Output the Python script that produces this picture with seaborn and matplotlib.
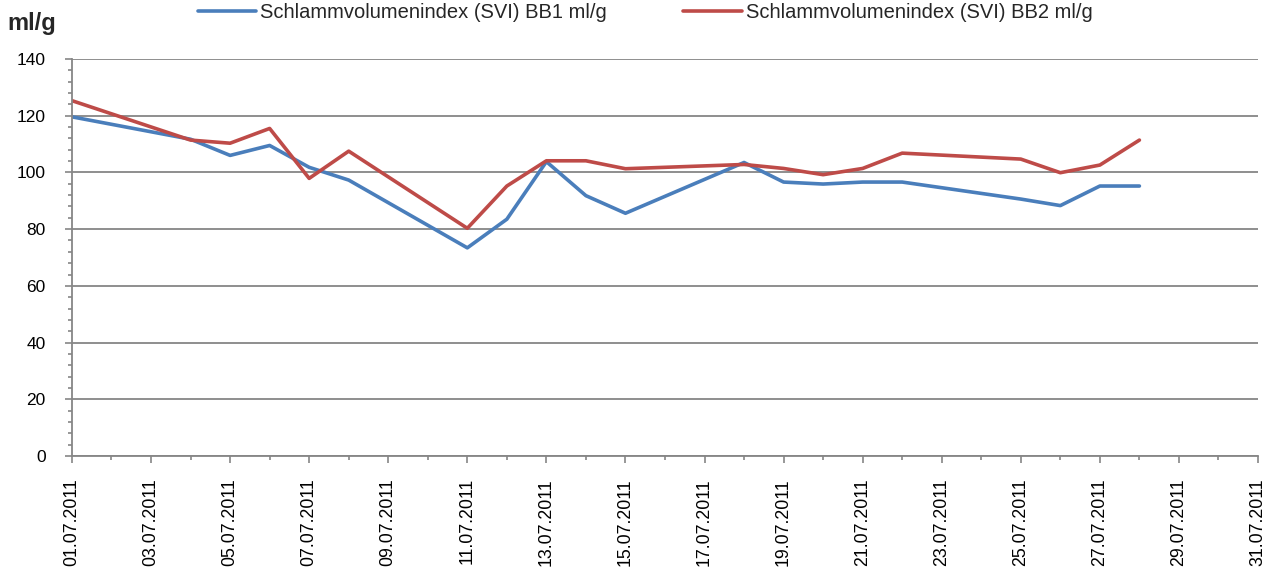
import matplotlib
matplotlib.use("Agg")
import matplotlib.pyplot as plt
import matplotlib.dates as mdates
from matplotlib.ticker import MultipleLocator
import seaborn as sns
import pandas as pd

dates = ["2011-07-01", "2011-07-04", "2011-07-05", "2011-07-06", "2011-07-07", "2011-07-08",
         "2011-07-11", "2011-07-12", "2011-07-13", "2011-07-14", "2011-07-15",
         "2011-07-18", "2011-07-19", "2011-07-20", "2011-07-21", "2011-07-22",
         "2011-07-25", "2011-07-26", "2011-07-27", "2011-07-28"]
bb1 = [119.6, 111.7, 106.0, 109.5, 101.8, 97.3, 73.4, 83.5, 103.8, 91.8, 85.6,
       103.5, 96.6, 95.9, 96.6, 96.6, 90.6, 88.3, 95.2, 95.2]
bb2 = [125.3, 111.4, 110.3, 115.5, 97.9, 107.5, 80.3, 95.2, 104.1, 104.1, 101.3,
       102.8, 101.4, 99.2, 101.4, 106.8, 104.7, 99.9, 102.6, 111.4]
label1 = "Schlammvolumenindex (SVI) BB1 ml/g"
label2 = "Schlammvolumenindex (SVI) BB2 ml/g"
y_ticks = [0, 20, 40, 60, 80, 100, 120, 140]

sns.set_theme(style="white")
plt.rcParams["font.family"] = ["Liberation Sans", "DejaVu Sans"]

df = pd.DataFrame({"date": pd.to_datetime(dates), "bb1": bb1, "bb2": bb2})

fig = plt.figure(figsize=(12.85, 5.71), dpi=100)
ax = fig.add_axes([0.056, 0.2014, 0.923, 0.6953])

sns.lineplot(data=df, x="date", y="bb1", ax=ax, color="#4A7EBB", linewidth=2.6, label=label1)
sns.lineplot(data=df, x="date", y="bb2", ax=ax, color="#BE4B48", linewidth=2.6, label=label2)

ax.set_ylim(0, 140)
ax.set_yticks(y_ticks)
ax.yaxis.set_minor_locator(MultipleLocator(4))
ax.set_xlim(pd.Timestamp("2011-07-01"), pd.Timestamp("2011-07-31"))
ax.xaxis.set_major_locator(mdates.DayLocator(interval=2))
ax.xaxis.set_minor_locator(mdates.DayLocator())
ax.xaxis.set_major_formatter(mdates.DateFormatter("%d.%m.%Y"))
plt.setp(ax.get_xticklabels(), rotation=90)

ax.grid(axis="y", color="#868686", linewidth=1.3)
ax.set_axisbelow(True)
for s in ["top", "right"]:
    ax.spines[s].set_visible(False)
for s in ["left", "bottom"]:
    ax.spines[s].set_color("#868686")
    ax.spines[s].set_linewidth(1.3)

ax.tick_params(axis="both", which="major", direction="out", length=5, width=1.2, color="#868686",
               labelcolor="black", bottom=True, left=True)
ax.tick_params(axis="both", which="minor", direction="out", length=3, width=1.2, color="#868686",
               bottom=True, left=True)
ax.tick_params(axis="y", which="major", pad=14, labelsize=12.5)
ax.tick_params(axis="x", which="major", pad=11, labelsize=12.8)

ax.set_xlabel("")
ax.set_ylabel("")

ax.legend(loc="upper center", bbox_to_anchor=(0.502, 1.026), bbox_transform=fig.transFigure,
          ncol=2, frameon=False, fontsize=14.5, handlelength=2.9, columnspacing=3.8,
          handletextpad=0.2)

fig.text(0.006, 0.958, "ml/g", fontsize=17, fontweight="bold", ha="left", va="center")

fig.savefig("out.png", dpi=100)
